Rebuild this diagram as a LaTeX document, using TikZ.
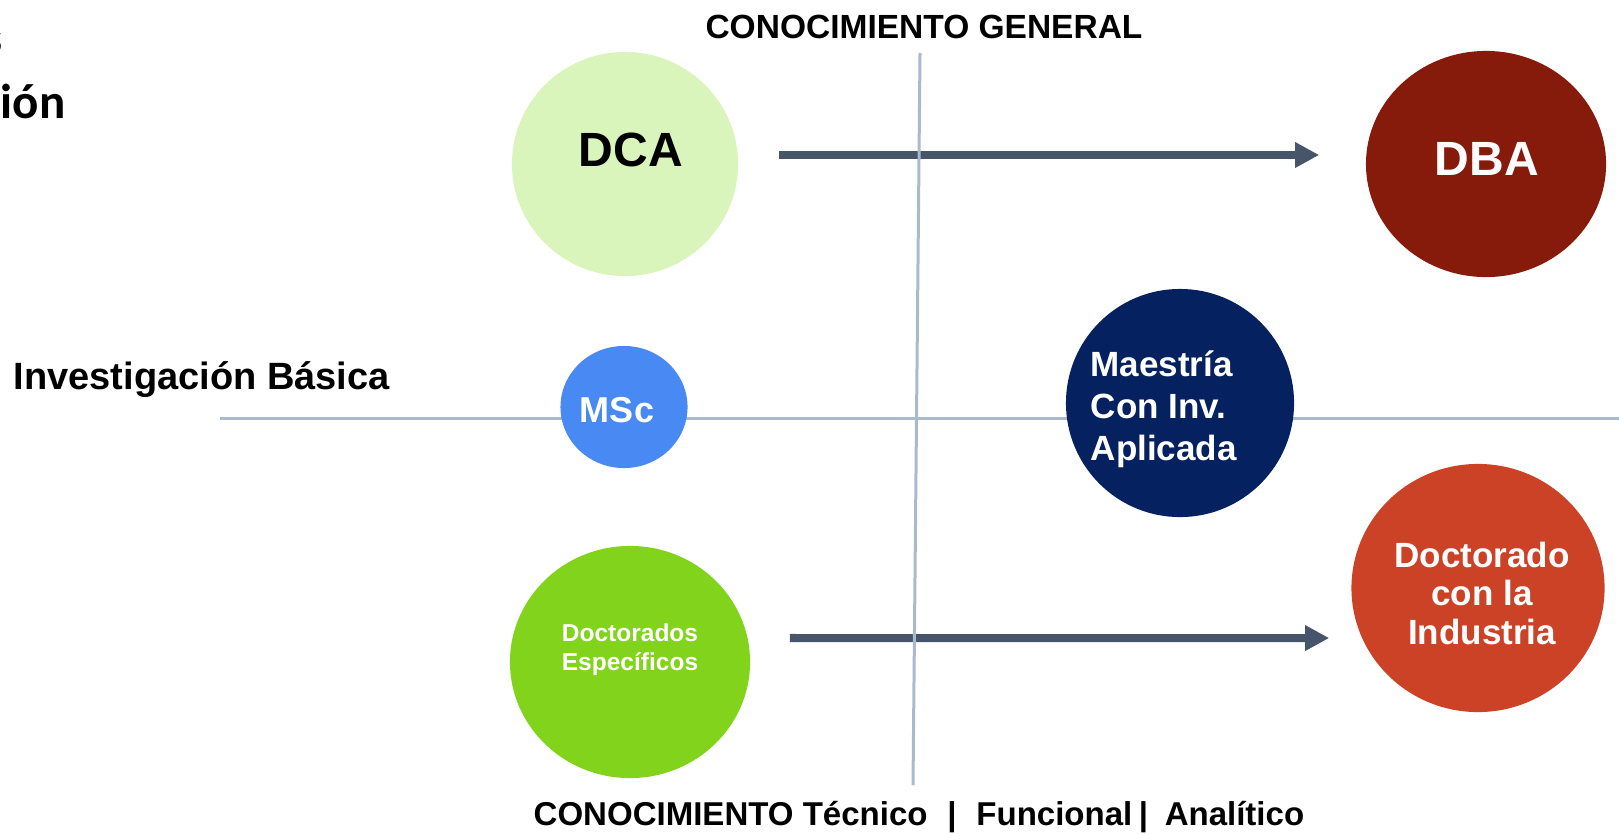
\documentclass[tikz,border=0pt]{standalone}
\usepackage{fontspec}
\setmainfont{Liberation Sans}
\newfontfamily\calibfont{Carlito}
\usetikzlibrary{shapes.geometric,arrows.meta}
\definecolor{dcacol}{HTML}{DAF5BC}
\definecolor{dbacol}{HTML}{861A0B}
\definecolor{msccol}{HTML}{4889F4}
\definecolor{navycol}{HTML}{06215F}
\definecolor{redcol}{HTML}{CB4227}
\definecolor{greencol}{HTML}{82D31B}
\definecolor{arrowcol}{HTML}{465569}
\definecolor{axiscol}{HTML}{A8BACB}
\tikzset{
  bubble/.style={ellipse, draw=none, inner sep=0pt},
  flow/.style={draw=arrowcol, line width=0.08cm, -{Triangle[length=0.24cm,width=0.24cm]}},
  axisline/.style={draw=axiscol, line width=0.03cm},
  wtxt/.style={text=white, font=\bfseries, inner sep=0pt, anchor=base},
  btxt/.style={text=black, font=\bfseries, inner sep=0pt, anchor=base},
}
\begin{document}
\begin{tikzpicture}[x=0.01cm,y=-0.01cm]
\useasboundingbox (0,0) rectangle (1619,833);
\clip (0,0) rectangle (1619,833);
\fill[white] (0,0) rectangle (1619,833);

% partial texts at top-left (cut off by the left edge, as in the reference)
\node[btxt, anchor=base east, font=\calibfont\bfseries\fontsize{12.8pt}{14pt}\selectfont] (frag1) at (3,53) {s};
\node[btxt, anchor=base east, font=\calibfont\bfseries\fontsize{13.94pt}{16pt}\selectfont] (frag2) at (66,118) {ión};

% bubbles (shapes only)
\node[bubble, fill=dcacol, minimum width=2.26cm, minimum height=2.24cm] (dca) at (625,164) {};
\node[bubble, fill=dbacol, minimum width=2.40cm, minimum height=2.26cm] (dba) at (1486,164) {};
\node[bubble, fill=greencol, minimum width=2.40cm, minimum height=2.32cm] (esp) at (630,662) {};
\node[bubble, fill=redcol, minimum width=2.53cm, minimum height=2.48cm] (ind) at (1478,588) {};

% arrows
\draw[flow, shorten <=0.40cm, shorten >=0.46cm] ([yshift=0.09cm]dca.east) -- ([yshift=0.09cm]dba.west);
\draw[flow] ([xshift=0.39cm,yshift=0.24cm]esp.east) -- ([xshift=-0.215cm,yshift=-0.50cm]ind.west);

% axes
\coordinate (vtop) at (920,53);
\coordinate (vbot) at (913,785);
\coordinate (hleft) at (220,418);
\coordinate (hright) at (1625,418);
\draw[axisline] (vtop) -- (vbot);
\draw[axisline] (hleft) -- (hright);

% bubbles on the horizontal axis
\node[bubble, fill=msccol, minimum width=1.27cm, minimum height=1.22cm] (msc) at (624,407) {};
\node[bubble, fill=navycol, minimum width=2.28cm, minimum height=2.28cm] (mae) at (1180,403) {};

% bubble texts (multi-line nodes: base = last line)
\node[btxt, font=\bfseries\fontsize{13.66pt}{15pt}\selectfont] (dcat) at (631,166) {DCA};
\node[wtxt, font=\bfseries\fontsize{13.66pt}{15pt}\selectfont] (dbat) at (1487,175) {DBA};
\node[wtxt, font=\bfseries\fontsize{10.24pt}{12pt}\selectfont] (msct) at (617,422) {MSc};
\node[wtxt, anchor=base west, align=left, font=\bfseries\fontsize{9.96pt}{11.87pt}\selectfont] (maet) at (1090,460) {Maestría\\Con Inv.\\Aplicada};
\node[wtxt, align=center, font=\bfseries\fontsize{9.96pt}{10.95pt}\selectfont] (indt) at (1482,644) {Doctorado\\con la\\Industria};
\node[wtxt, align=center, font=\bfseries\fontsize{6.97pt}{7.97pt}\selectfont] (espt) at (630,670) {Doctorados\\Específicos};

% axis labels
\node[btxt, font=\bfseries\fontsize{9.53pt}{11pt}\selectfont] (ttop) at (924,38) {CONOCIMIENTO GENERAL};
\node[btxt, anchor=base west, font=\bfseries\fontsize{10.81pt}{12pt}\selectfont] (tleft) at (13,389) {Investigación Básica};
\node[btxt, anchor=base west, font=\bfseries\fontsize{9.39pt}{11pt}\selectfont] (tbot) at (533,825) {CONOCIMIENTO Técnico\hspace{0.6em}|\hspace{0.6em}Funcional\hspace{0.2em}|\hspace{0.5em}Analítico};
\end{tikzpicture}
\end{document}
